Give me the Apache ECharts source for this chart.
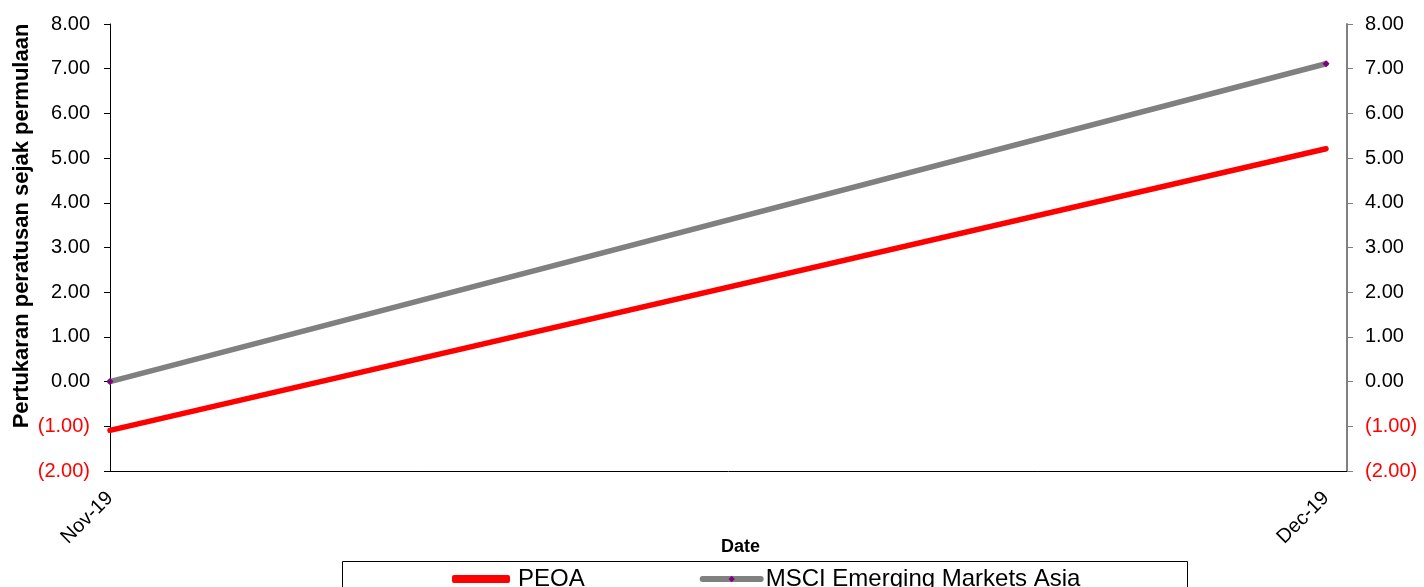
<!DOCTYPE html>
<html>
<head>
<meta charset="utf-8">
<script src="https://cdn.jsdelivr.net/npm/echarts@6/dist/echarts.min.js"></script>
<style>
html,body{margin:0;padding:0;background:#fff;}
#chart{width:1424px;height:587px;}
</style>
</head>
<body>
<div id="chart"></div>
<script>
const categories = ['Nov-19', 'Dec-19'];
const peoa = [-1.09, 5.21];
const msci = [0.00, 7.11];
const seriesNames = ['PEOA', 'MSCI Emerging Markets Asia'];
const yTicks = [-2, -1, 0, 1, 2, 3, 4, 5, 6, 7, 8];

const toPairs = arr => arr.map((v, i) => [i, v]);
const fmt = v => v < 0 ? '(' + Math.abs(v).toFixed(2) + ')' : v.toFixed(2);
const FONT = 'Arial, Liberation Sans, sans-serif';
const richLabel = {
  neg: {color: '#ff0000', fontSize: 20, fontFamily: FONT},
  pos: {color: '#000000', fontSize: 20, fontFamily: FONT}
};
const labelFmt = v => v < 0 ? '{neg|' + fmt(v) + '}' : '{pos|' + fmt(v) + '}';

const chart = echarts.init(document.getElementById('chart'));
chart.setOption({
  animation: false,
  backgroundColor: '#ffffff',
  grid: {left: 110, right: 77, top: 24, bottom: 116, containLabel: false},
  xAxis: {
    type: 'value',
    min: 0,
    max: 1237 / 1216,
    interval: 1,
    splitLine: {show: false},
    axisTick: {show: false},
    axisLine: {show: true, onZero: false, lineStyle: {color: '#000', width: 1}},
    axisLabel: {
      rotate: 45,
      margin: 24,
      fontSize: 20,
      color: '#000',
      fontFamily: FONT,
      showMaxLabel: false,
      formatter: v => (Number.isInteger(v) && categories[v] !== undefined) ? categories[v] : ''
    }
  },
  yAxis: [
    {
      type: 'value', position: 'left', min: yTicks[0], max: yTicks[yTicks.length - 1], interval: 1,
      splitLine: {show: false},
      axisLine: {show: true, lineStyle: {color: '#000', width: 1}},
      axisTick: {show: true, inside: false, length: 6, lineStyle: {color: '#000'}},
      axisLabel: {margin: 20, formatter: labelFmt, rich: richLabel}
    },
    {
      type: 'value', position: 'right', min: yTicks[0], max: yTicks[yTicks.length - 1], interval: 1,
      splitLine: {show: false},
      axisLine: {show: true, lineStyle: {color: '#808080', width: 2}},
      axisTick: {show: true, inside: false, length: 6, lineStyle: {color: '#808080'}},
      axisLabel: {margin: 18, formatter: labelFmt, rich: richLabel}
    }
  ],
  legend: {
    left: 447,
    top: 562,
    itemGap: 115,
    itemWidth: 58,
    itemHeight: 8,
    textStyle: {fontSize: 24, color: '#000', fontFamily: FONT},
    data: [
      {name: seriesNames[0], icon: 'roundRect', itemStyle: {color: '#ff0000'},
       textStyle: {fontSize: 24, color: '#000', fontFamily: FONT, padding: [0, 0, 0, 3]}},
      {name: seriesNames[1], lineStyle: {width: 6, color: '#808080'},
       textStyle: {fontSize: 24, color: '#000', fontFamily: FONT, padding: [0, 0, 0, 0]}}
    ]
  },
  series: [
    {
      name: seriesNames[0], type: 'line', yAxisIndex: 0,
      data: toPairs(peoa),
      symbol: 'none',
      lineStyle: {color: '#ff0000', width: 5.5, cap: 'round'},
      itemStyle: {color: '#ff0000'}
    },
    {
      name: seriesNames[1], type: 'line', yAxisIndex: 0,
      data: toPairs(msci),
      symbol: 'diamond', symbolSize: 7, showSymbol: true,
      lineStyle: {color: '#808080', width: 5.5, cap: 'round'},
      itemStyle: {color: '#800080', borderWidth: 0}
    }
  ],
  graphic: [
    {
      type: 'rect', left: 340, top: 559, shape: {width: 845, height: 40},
      style: {fill: 'none', stroke: '#000', lineWidth: 1}, silent: true
    },
    {
      type: 'text', left: 721, top: 538,
      style: {text: 'Date', font: 'bold 18px Arial, Liberation Sans, sans-serif', fill: '#000'}
    },
    {
      type: 'text', x: 22, y: 226, rotation: Math.PI / 2,
      style: {text: 'Pertukaran peratusan sejak permulaan', font: 'bold 22px Arial, Liberation Sans, sans-serif', fill: '#000', align: 'center', verticalAlign: 'middle'}
    }
  ]
});
</script>
</body>
</html>
